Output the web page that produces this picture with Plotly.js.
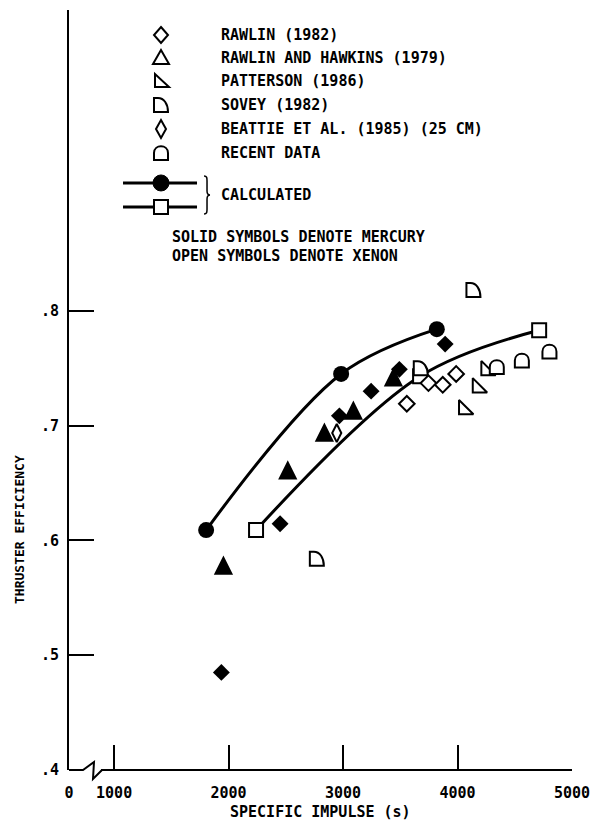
<!DOCTYPE html>
<html><head><meta charset="utf-8">
<script src="https://cdn.plot.ly/plotly-3.0.1.min.js"></script>
<style>html,body{margin:0;padding:0;background:#fff}</style>
</head><body><div id="chart" style="width:592px;height:830px"></div>
<script>
// ---- data ----
const calcHgX = [1804, 2983, 3819];
const calcHgY = [0.609, 0.745, 0.784];
const calcXeX = [2240, 3673, 4713];
const calcXeY = [0.609, 0.743, 0.783];
const rawlinHgX = [1937, 2450, 2968, 3245, 3492, 3892];
const rawlinHgY = [0.485, 0.6145, 0.7085, 0.730, 0.749, 0.771];
const hawkinsHgX = [1955, 2517, 2837, 3090, 3440];
const hawkinsHgY = [0.577, 0.660, 0.693, 0.712, 0.741];
const rawlinXeX = [3557, 3746, 3871, 3988];
const rawlinXeY = [0.719, 0.737, 0.7355, 0.745];
const pattersonX = [4055, 4175, 4250];
const pattersonY = [0.714, 0.733, 0.748];
const soveyX = [2771, 3679, 4139];
const soveyY = [0.584, 0.750, 0.818];
const beattieX = [2945];
const beattieY = [0.6935];
const recentX = [4343, 4562, 4803];
const recentY = [0.751, 0.7567, 0.7645];
const xTickVals = [606, 1000, 2000, 3000, 4000, 5000];
const xTickText = ['0', '1000', '2000', '3000', '4000', '5000'];
const yTickVals = [0.4, 0.5, 0.6, 0.7, 0.8];
const yTickText = ['.4', '.5', '.6', '.7', '.8'];
const legendLabels = ['RAWLIN (1982)', 'RAWLIN AND HAWKINS (1979)', 'PATTERSON (1986)',
  'SOVEY (1982)', 'BEATTIE ET AL. (1985) (25 CM)', 'RECENT DATA'];

// ---- styles ----
const F = 'DejaVu Sans Mono, monospace';
const K = '#000';
const GLYPH = {
  diamond: 'M0,8 L7,0 L0,-8 L-7,0 Z',
  triangle: 'M-8,-6 L8,-6 L0,8 Z',
  patterson: 'M-6,7 L-6,-6 L8,-6 Z',
  sovey: 'M-7,-7 L-7,7 L-3,7 C3,7 7,1 7,-7 Z',
  beattie: 'M0,9 L5,0 L0,-9 L-5,0 Z',
  recent: 'M-7,-7 L7,-7 L7,0 C7,9 -7,9 -7,0 Z',
  brace: 'M-3,19 C0,19 0,17 0,14 L0,4 C0,1 1,0 3,0 C1,0 0,-1 0,-4 L0,-14 C0,-17 0,-19 -3,-19',
  hgTriangle: 'M-8,-7 L8,-7 L0,9 Z'
};

function glyphData(xs, ys, path, fill, layer) {
  return xs.map((x, i) => ({
    type: 'path', xref: 'x', yref: 'y', xsizemode: 'pixel', ysizemode: 'pixel',
    xanchor: x, yanchor: ys[i], path: path, layer: layer || 'above',
    line: {color: K, width: 2}, fillcolor: fill || '#fff'
  }));
}
function glyphPaper(px, py, path, fill, w) {
  return {type: 'path', xref: 'paper', yref: 'paper', xsizemode: 'pixel', ysizemode: 'pixel',
    xanchor: px, yanchor: py, path: path, line: {color: K, width: w || 2},
    fillcolor: fill || 'rgba(0,0,0,0)'};
}

const traces = [
  {x: calcHgX, y: calcHgY, mode: 'lines+markers', line: {color: K, width: 3, shape: 'spline'},
   marker: {symbol: 'circle', size: 16, color: K}},
  {x: calcXeX, y: calcXeY, mode: 'lines+markers', line: {color: K, width: 3, shape: 'spline'},
   marker: {symbol: 'square', size: 14, color: '#fff', line: {color: K, width: 2}}},
  {x: rawlinHgX, y: rawlinHgY, mode: 'markers', marker: {symbol: 'diamond', size: 13, color: K}},
  {x: rawlinXeX, y: rawlinXeY, mode: 'markers',
   marker: {symbol: 'diamond', size: 12, color: '#fff', line: {color: K, width: 2}}},
  {x: beattieX, y: beattieY, mode: 'markers',
   marker: {symbol: 'diamond-tall', size: 13, color: '#fff', line: {color: K, width: 2}}},
  {x: pattersonX, y: pattersonY, mode: 'markers',
   marker: {symbol: 'triangle-sw', size: 16, color: '#fff', line: {color: K, width: 2}}}
];

// legend layout (paper coords)
const LX = 0.1829, TX = 0.2982;
const rowY = [0.9671, 0.9368, 0.9066, 0.875, 0.8434, 0.8118];
const rowGlyph = [GLYPH.diamond, GLYPH.triangle, GLYPH.patterson, GLYPH.sovey, GLYPH.beattie, GLYPH.recent];

let shapes = [];
shapes = shapes.concat(glyphData(hawkinsHgX, hawkinsHgY, GLYPH.hgTriangle, K, 'below'));
shapes = shapes.concat(glyphData(soveyX, soveyY, GLYPH.sovey));
shapes = shapes.concat(glyphData(recentX, recentY, GLYPH.recent));
rowGlyph.forEach((g, i) => shapes.push(glyphPaper(LX, rowY[i], g)));
// calculated legend
shapes.push({type: 'line', xref: 'paper', yref: 'paper', x0: 0.1074, x1: 0.2545, y0: 0.7724, y1: 0.7724, line: {color: K, width: 3}});
shapes.push({type: 'line', xref: 'paper', yref: 'paper', x0: 0.1074, x1: 0.2545, y0: 0.7408, y1: 0.7408, line: {color: K, width: 3}});
shapes.push({type: 'circle', xref: 'paper', yref: 'paper', xsizemode: 'pixel', ysizemode: 'pixel',
  xanchor: LX, yanchor: 0.7724, x0: -8, x1: 8, y0: -8, y1: 8, fillcolor: K, line: {color: K, width: 1}});
shapes.push({type: 'rect', xref: 'paper', yref: 'paper', xsizemode: 'pixel', ysizemode: 'pixel',
  xanchor: LX, yanchor: 0.7408, x0: -7, x1: 7, y0: -7, y1: 7, fillcolor: '#fff', line: {color: K, width: 2}});
shapes.push(glyphPaper(0.2744, 0.7566, GLYPH.brace, 'rgba(0,0,0,0)', 1.5));
// x axis line with break
shapes.push({type: 'path', xref: 'paper', yref: 'paper', xsizemode: 'pixel', ysizemode: 'pixel',
  xanchor: 0, yanchor: 0, path: 'M0,0 L14,0 L25,8 L24,-9 L33,0', line: {color: K, width: 2}});
shapes.push({type: 'line', xref: 'paper', yref: 'paper', x0: 0.0636, x1: 1, y0: 0, y1: 0, line: {color: K, width: 2}});

const TF = {family: F, size: 15, color: K, weight: 'bold'};
const annotations = legendLabels.map((t, i) => ({
  text: t, xref: 'paper', yref: 'paper', x: TX, y: rowY[i], xanchor: 'left', yanchor: 'middle',
  showarrow: false, font: TF
}));
annotations.push({text: 'CALCULATED', xref: 'paper', yref: 'paper', x: TX, y: 0.7566, xanchor: 'left', yanchor: 'middle', showarrow: false, font: TF});
annotations.push({text: 'SOLID SYMBOLS DENOTE MERCURY', xref: 'paper', yref: 'paper', x: 0.2008, y: 0.7013, xanchor: 'left', yanchor: 'middle', showarrow: false, font: TF});
annotations.push({text: 'OPEN SYMBOLS DENOTE XENON', xref: 'paper', yref: 'paper', x: 0.2008, y: 0.6763, xanchor: 'left', yanchor: 'middle', showarrow: false, font: TF});
annotations.push({text: 'SPECIFIC IMPULSE (s)', xref: 'paper', yref: 'paper', x: 0.5, y: -0.0553, xanchor: 'center', yanchor: 'middle', showarrow: false, font: TF});
annotations.push({text: 'THRUSTER EFFICIENCY', xref: 'paper', yref: 'paper', x: -0.0974, y: 0.3158, xanchor: 'center', yanchor: 'middle', textangle: -90, showarrow: false, font: {family: F, size: 13, color: K, weight: 'bold'}});

const layout = {
  width: 592, height: 830,
  margin: {l: 69, r: 20, t: 10, b: 60},
  paper_bgcolor: '#fff', plot_bgcolor: '#fff',
  showlegend: false,
  xaxis: {range: [606, 5000], tickmode: 'array', tickvals: xTickVals, ticktext: xTickText,
    ticks: 'inside', ticklen: 25, tickwidth: 2, tickcolor: K, showline: false, showgrid: false, zeroline: false,
    tickfont: TF, ticklabelstandoff: 12},
  yaxis: {range: [0.4, 1.062], tickmode: 'array', tickvals: yTickVals, ticktext: yTickText,
    ticks: 'inside', ticklen: 25, tickwidth: 2, tickcolor: K, showline: true, linewidth: 2, linecolor: K,
    showgrid: false, zeroline: false, tickfont: TF, ticklabelstandoff: 5},
  shapes: shapes,
  annotations: annotations
};
Plotly.newPlot('chart', traces, layout, {displayModeBar: false, staticPlot: true});
</script></body></html>
